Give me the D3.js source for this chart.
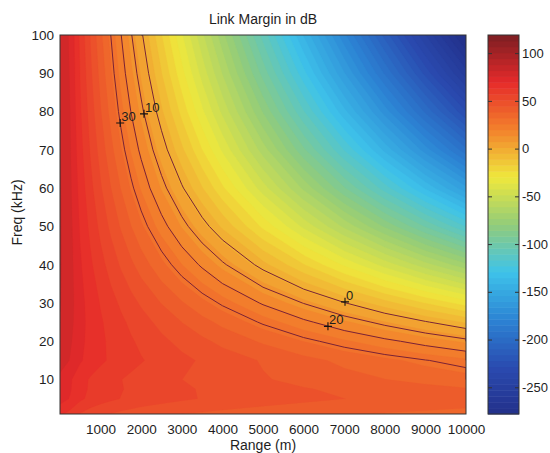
<!DOCTYPE html>
<html><head><meta charset="utf-8">
<script src="https://cdn.jsdelivr.net/npm/d3@7"></script>
<style>
body{margin:0;background:#fff}
text{font-family:"Liberation Sans",Arial,sans-serif;fill:#1e1e1e}
</style>
</head><body>
<svg id="chart" width="550" height="453"></svg>
<script>
// ---- data ----
const ranges = [0,250,500,750,1000,1250,1500,1750,2000,2500,3000,3500,4000,5000,6000,7000,8000,9000,10000]; // m
const freqs = [1,2.5,5,7.5,10,15,20,25,30,40,50,60,70,80,90,100]; // kHz
// link margin (dB) per frequency row, one value per range column
const lm_f1   = [64.4,61.0,56.5,53.8,51.9,50.5,49.3,48.2,47.3,45.9,44.6,43.6,42.7,41.2,39.9,38.8,37.9,37.1,36.3];
const lm_f2_5 = [67.3,64.0,59.4,56.7,54.8,53.3,52.1,51.1,50.1,48.6,47.3,46.3,45.3,43.7,42.3,41.2,40.1,39.2,38.3];
const lm_f5   = [72.3,68.9,64.3,61.6,59.6,58.1,56.8,55.7,54.7,53.1,51.7,50.5,49.4,47.6,46.0,44.6,43.4,42.3,41.2];
const lm_f7_5 = [73.3,69.9,65.2,62.3,60.3,58.7,57.3,56.1,55.0,53.2,51.7,50.3,49.1,46.9,45.0,43.3,41.7,40.2,38.8];
const lm_f10  = [73.7,70.2,65.4,62.5,60.3,58.6,57.1,55.8,54.6,52.6,50.8,49.2,47.7,45.1,42.7,40.5,38.5,36.5,34.6];
const lm_f15  = [78.8,75.2,70.1,66.8,64.3,62.3,60.5,58.8,57.4,54.7,52.3,50.0,47.9,44.0,40.4,36.9,33.6,30.3,27.2];
const lm_f20  = [80.2,76.5,71.0,67.3,64.4,61.9,59.7,57.6,55.7,52.2,48.9,45.9,42.9,37.4,32.0,26.9,21.9,17.0,12.2];
const lm_f25  = [81.4,77.5,71.5,67.3,63.9,60.9,58.2,55.7,53.3,48.8,44.5,40.5,36.6,29.0,21.7,14.6,7.6,0.7,-6.1];
const lm_f30  = [82.1,78.0,71.4,66.7,62.7,59.2,55.9,52.9,49.9,44.3,39.0,33.9,28.9,19.1,9.7,0.4,-8.8,-17.8,-26.8];
const lm_f40  = [82.4,77.8,70.1,64.2,59.1,54.4,50.0,45.8,41.7,33.8,26.1,18.7,11.4,-3.0,-17.1,-31.0,-44.8,-58.5,-72.0];
const lm_f50  = [82.4,77.4,68.5,61.5,55.2,49.4,43.9,38.5,33.2,23.1,13.1,3.4,-6.2,-25.1,-43.8,-62.3,-80.6,-98.8,-117.0];
const lm_f60  = [82.3,76.8,66.9,58.8,51.5,44.7,38.1,31.6,25.3,13.0,1.0,-10.8,-22.5,-45.7,-68.5,-91.2,-113.7,-136.2,-158.5];
const lm_f70  = [82.0,76.2,65.3,56.3,48.1,40.3,32.7,25.4,18.2,4.0,-9.9,-23.6,-37.2,-64.1,-90.7,-117.1,-143.4,-169.6,-195.7];
const lm_f80  = [81.8,75.6,63.9,54.1,45.0,36.4,28.0,19.8,11.8,-4.0,-19.5,-34.9,-50.1,-80.2,-110.1,-139.8,-169.4,-198.8,-228.2];
const lm_f90  = [81.5,75.0,62.6,52.1,42.4,33.0,23.9,15.0,6.3,-11.0,-27.9,-44.7,-61.3,-94.4,-127.1,-159.7,-192.1,-224.4,-256.6];
const lm_f100 = [81.3,74.5,61.5,50.3,39.9,30.0,20.3,10.7,1.3,-17.1,-35.4,-53.4,-71.3,-106.8,-142.1,-177.2,-212.1,-246.9,-281.7];
const lmRows = [lm_f1,lm_f2_5,lm_f5,lm_f7_5,lm_f10,lm_f15,lm_f20,lm_f25,lm_f30,lm_f40,lm_f50,lm_f60,lm_f70,lm_f80,lm_f90,lm_f100];

const xTicks = [1000,2000,3000,4000,5000,6000,7000,8000,9000,10000];
const yTicks = [10,20,30,40,50,60,70,80,90,100];
const cbTicks = [100,50,0,-50,-100,-150,-200,-250];
const contourLevels = [0,10,20,30];
const labelLevels = [30,10,0,20];
const labelRanges = [1482,2069,7020,6600];
const labelFreqs  = [77,79.4,30.3,23.9];
const colorDomain = [-278,119];

// ---- layout ----
const P = {x0:60, x1:466, y0:35, y1:414};
const CB = {x0:488, x1:519};
const svg = d3.select("#chart");
const xScale = d3.scaleLinear().domain([0,10000]).range([P.x0,P.x1]);
const yScale = d3.scaleLinear().domain([1,100]).range([P.y1,P.y0]);
const fmt = d => String(d);

// muted jet colormap
const t2v = t => colorDomain[0] + t*(colorDomain[1]-colorDomain[0]);
const jet = d3.scaleLinear()
  .domain([0,0.125,0.25,0.375,0.5,0.625,0.75,0.875,1].map(t2v))
  .range(["#22308a","#2a4bb0","#2c84d4","#3ec3ea","#92cc7a","#efe83c","#f3822c","#e62a2a","#7c1e22"])
  .interpolate(d3.interpolateRgb).clamp(true);
const nLevels = 64;
const step = (colorDomain[1]-colorDomain[0])/nLevels;
const bandColor = k => jet(colorDomain[0] + (k+0.5)*step);

// ---- heat map via filled contour bands ----
const n = ranges.length, m = freqs.length;
const values = [];
lmRows.forEach(r => values.push(...r));
const gen = d3.contours().size([n,m]);
const gx2r = d3.scaleLinear().domain(d3.range(n)).range(ranges).clamp(true);
const gy2f = d3.scaleLinear().domain(d3.range(m)).range(freqs).clamp(true);
const px = gx => xScale(gx2r(gx-0.5));
const py = gy => yScale(gy2f(gy-0.5));
const path = d3.geoPath(d3.geoTransform({point(x,y){ this.stream.point(px(x),py(y)); }}));

svg.append("clipPath").attr("id","clip").append("rect")
  .attr("x",P.x0).attr("y",P.y0).attr("width",P.x1-P.x0).attr("height",P.y1-P.y0);
const gMap = svg.append("g").attr("clip-path","url(#clip)");
for (let k=0;k<nLevels;k++){
  const th = k===0 ? -1e9 : colorDomain[0]+k*step;
  gMap.append("path").attr("d", path(gen.contour(values, th)))
    .attr("fill", bandColor(k)).attr("stroke", bandColor(k)).attr("stroke-width",0.3);
}

// contour lines (skip the frame edges)
const onEdge = (a,b) => (a[0]===0&&b[0]===0)||(a[0]===n&&b[0]===n)||(a[1]===0&&b[1]===0)||(a[1]===m&&b[1]===m);
contourLevels.forEach(L => {
  const c = gen.contour(values, L);
  let d = "";
  c.coordinates.forEach(poly => poly.forEach(ring => {
    let pen = false;
    for (let i=0;i<ring.length-1;i++){
      const a=ring[i], b=ring[i+1];
      if (onEdge(a,b)) { pen=false; continue; }
      if (!pen){ d += "M"+px(a[0]).toFixed(2)+","+py(a[1]).toFixed(2); pen=true; }
      d += "L"+px(b[0]).toFixed(2)+","+py(b[1]).toFixed(2);
    }
  }));
  gMap.append("path").attr("d",d).attr("fill","none").attr("stroke","#7a2236").attr("stroke-width",1);
});

// contour labels with + markers
labelLevels.forEach((L,i) => {
  const x = xScale(labelRanges[i]), y = yScale(labelFreqs[i]);
  svg.append("path").attr("d",`M${x-4},${y}H${x+4}M${x},${y-4}V${y+4}`)
    .attr("stroke","#111").attr("stroke-width",1.1);
  svg.append("text").attr("x",x+1).attr("y",y-2).attr("font-size","13px").text(L);
});

// frame
svg.append("rect").attr("x",P.x0).attr("y",P.y0).attr("width",P.x1-P.x0).attr("height",P.y1-P.y0)
  .attr("fill","none").attr("stroke","#333").attr("stroke-width",1);

// axes
const ax = svg.append("g").attr("transform",`translate(0,${P.y1})`)
  .call(d3.axisBottom(xScale).tickValues(xTicks).tickFormat(fmt).tickSize(0).tickPadding(10));
const ay = svg.append("g").attr("transform",`translate(${P.x0},0)`)
  .call(d3.axisLeft(yScale).tickValues(yTicks).tickFormat(fmt).tickSize(0).tickPadding(6));
[ax,ay].forEach(g => { g.select(".domain").remove(); g.selectAll("text").attr("font-size","13.5px").attr("fill","#1e1e1e").attr("font-family","Liberation Sans, Arial, sans-serif"); });

svg.append("text").attr("x",(P.x0+P.x1)/2).attr("y",24).attr("text-anchor","middle")
  .attr("font-size","14px").text("Link Margin in dB");
svg.append("text").attr("x",(P.x0+P.x1)/2).attr("y",450).attr("text-anchor","middle")
  .attr("font-size","14px").text("Range (m)");
svg.append("text").attr("transform",`translate(22,${(P.y0+P.y1)/2 - 12}) rotate(-90)`).attr("text-anchor","middle")
  .attr("font-size","14px").text("Freq (kHz)");

// colorbar
const cbScale = d3.scaleLinear().domain(colorDomain).range([P.y1,P.y0]);
const gcb = svg.append("g");
d3.range(nLevels).forEach(k => {
  const yA = cbScale(colorDomain[0]+(k+1)*step), yB = cbScale(colorDomain[0]+k*step);
  gcb.append("rect").attr("x",CB.x0).attr("y",yA).attr("width",CB.x1-CB.x0).attr("height",yB-yA+0.5)
    .attr("fill",bandColor(k));
});
gcb.append("rect").attr("x",CB.x0).attr("y",P.y0).attr("width",CB.x1-CB.x0).attr("height",P.y1-P.y0)
  .attr("fill","none").attr("stroke","#333").attr("stroke-width",1);
const cbR = svg.append("g").attr("transform",`translate(${CB.x1},0)`)
  .call(d3.axisRight(cbScale).tickValues(cbTicks).tickFormat(fmt).tickSizeInner(-4).tickSizeOuter(0).tickPadding(3));
const cbL = svg.append("g").attr("transform",`translate(${CB.x0},0)`)
  .call(d3.axisLeft(cbScale).tickValues(cbTicks).tickSizeInner(-4).tickSizeOuter(0).tickFormat(""));
[cbR,cbL].forEach(g => { g.select(".domain").remove(); g.selectAll("line").attr("stroke","#333"); });
cbR.selectAll("text").attr("font-size","13px").attr("fill","#1e1e1e").attr("font-family","Liberation Sans, Arial, sans-serif");
</script>
</body></html>
